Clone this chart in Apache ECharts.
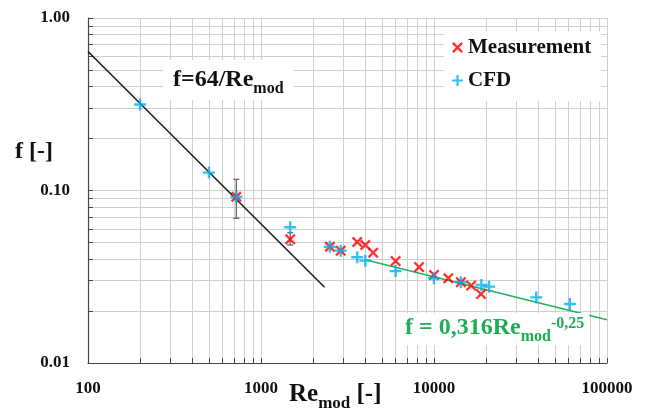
<!DOCTYPE html>
<html>
<head>
<meta charset="utf-8">
<script src="https://cdn.jsdelivr.net/npm/echarts@6/dist/echarts.min.js"></script>
<style>
  html, body { margin: 0; padding: 0; background: #fff; }
  #chart { width: 648px; height: 416px; }
</style>
</head>
<body>
<div id="chart"></div>
<script>
// Values
var cfdRe = [200, 500, 720, 1475, 2500, 2890, 3600, 4010, 6000, 10000, 14300, 18800, 20800, 39000, 61000];
var cfdF = [0.315, 0.127, 0.092, 0.0612, 0.0472, 0.0448, 0.041, 0.0392, 0.0341, 0.031, 0.0294, 0.0283, 0.0277, 0.024, 0.022];
var measRe = [720, 1475, 2500, 2890, 3600, 4010, 4450, 6000, 8200, 10000, 12100, 14300, 16400, 18700];
var measF = [0.092, 0.0521, 0.0472, 0.0448, 0.0503, 0.0483, 0.0436, 0.039, 0.036, 0.0324, 0.031, 0.0294, 0.0281, 0.0251];
var errRe = [720, 1475];
var errLow = [0.069, 0.0483];
var errHigh = [0.116, 0.0569];
var laminarRe = [100, 2330];
var laminarF = [0.64, 0.0275];
var turbRe = [4000, 100000];
var turbF = [0.0397, 0.0178];

var FONT = '"Liberation Serif", serif';
var PLUS = 'path://M4,0H6V4H10V6H6V10H4V6H0V4H4Z';
var CROSS = 'path://M1.5,0L5,3.5L8.5,0L10,1.5L6.5,5L10,8.5L8.5,10L5,6.5L1.5,10L0,8.5L3.5,5L0,1.5Z';

function pairs(xs, ys) {
  return xs.map(function (x, i) { return [x, ys[i]]; });
}

var chart = echarts.init(document.getElementById('chart'), null, { renderer: 'canvas' });

var option = {
  animation: false,
  backgroundColor: '#fff',
  grid: { left: 88, right: 41, top: 18, bottom: 53 },
  legend: {
    orient: 'vertical',
    left: 444,
    top: 31,
    itemGap: 12,
    itemWidth: 11,
    itemHeight: 11,
    backgroundColor: '#fff',
    padding: [6, 10, 10, 8],
    textStyle: { fontFamily: FONT, fontWeight: 'bold', fontSize: 21, color: '#111' },
    data: [
      { name: 'Measurement', icon: CROSS, itemStyle: { color: '#ff0000' } },
      { name: 'CFD', icon: PLUS, itemStyle: { color: '#00b0f0' } }
    ]
  },
  xAxis: {
    type: 'log',
    logBase: 10,
    min: 100,
    max: 100000,
    axisLine: { lineStyle: { color: '#444', width: 1.2 } },
    axisTick: { inside: true, length: 5, lineStyle: { color: '#444' } },
    minorTick: { show: true, splitNumber: 9, length: 5, lineStyle: { color: '#444' } },
    splitLine: { show: true, lineStyle: { color: '#cfcfcf', width: 1 } },
    minorSplitLine: { show: true, lineStyle: { color: '#cfcfcf', width: 1 } },
    axisLabel: {
      margin: 17,
      fontFamily: FONT, fontWeight: 'bold', fontSize: 17, color: '#111',
      formatter: function (v) { return String(Math.round(v)); }
    }
  },
  yAxis: {
    type: 'log',
    logBase: 10,
    min: 0.01,
    max: 1,
    axisLine: { show: true, lineStyle: { color: '#444', width: 1.2 } },
    axisTick: { show: true, inside: true, length: 5, lineStyle: { color: '#444' } },
    minorTick: { show: true, splitNumber: 9, length: 5, lineStyle: { color: '#444' } },
    splitLine: { show: true, lineStyle: { color: '#cfcfcf', width: 1 } },
    minorSplitLine: { show: true, lineStyle: { color: '#cfcfcf', width: 1 } },
    axisLabel: {
      margin: 18,
      fontFamily: FONT, fontWeight: 'bold', fontSize: 17, color: '#111',
      formatter: function (v) { return v.toFixed(2); }
    }
  },
  series: [
    {
      name: 'laminar',
      type: 'line',
      data: pairs(laminarRe, laminarF),
      symbol: 'none',
      lineStyle: { color: '#1a1a1a', width: 1.5 },
      z: 3
    },
    {
      name: 'turbulent',
      type: 'line',
      data: pairs(turbRe, turbF),
      symbol: 'none',
      lineStyle: { color: '#20b25a', width: 1.5 },
      z: 3
    },
    {
      name: 'errors',
      type: 'custom',
      data: errRe.map(function (x, i) { return [x, errLow[i], errHigh[i]]; }),
      renderItem: function (params, api) {
        var lo = api.coord([api.value(0), api.value(1)]);
        var hi = api.coord([api.value(0), api.value(2)]);
        var st = { stroke: '#666', lineWidth: 1.3 };
        return {
          type: 'group',
          children: [
            { type: 'line', shape: { x1: lo[0], y1: lo[1], x2: hi[0], y2: hi[1] }, style: st },
            { type: 'line', shape: { x1: lo[0] - 3, y1: lo[1], x2: lo[0] + 3, y2: lo[1] }, style: st },
            { type: 'line', shape: { x1: hi[0] - 3, y1: hi[1], x2: hi[0] + 3, y2: hi[1] }, style: st }
          ]
        };
      },
      z: 4
    },
    {
      name: 'Measurement',
      type: 'scatter',
      data: pairs(measRe, measF),
      symbol: CROSS,
      symbolSize: 11,
      itemStyle: { color: '#ff0000' },
      z: 5
    },
    {
      name: 'CFD',
      type: 'scatter',
      data: pairs(cfdRe, cfdF),
      symbol: PLUS,
      symbolSize: 12,
      itemStyle: { color: '#00b0f0' },
      z: 6
    }
  ],
  graphic: [
    {
      type: 'text', left: 15, top: 140,
      style: { text: 'f [-]', font: 'bold 24px ' + FONT, fill: '#111' }
    },
    {
      type: 'text', left: 289, top: 382,
      style: {
        text: '{a|Re}{s|mod}{a| [-]}',
        fill: '#111',
        rich: {
          a: { fontFamily: FONT, fontWeight: 'bold', fontSize: 25, lineHeight: 26, verticalAlign: 'top' },
          s: { fontFamily: FONT, fontWeight: 'bold', fontSize: 17, lineHeight: 17, padding: [13, 0, 0, 0], verticalAlign: 'top' }
        }
      }
    },
    {
      type: 'text', left: 163, top: 60, z: 10,
      style: {
        text: '{a|f=64/Re}{s|mod}',
        fill: '#111',
        backgroundColor: '#fff',
        padding: [8, 10, 6, 10],
        rich: {
          a: { fontFamily: FONT, fontWeight: 'bold', fontSize: 24, lineHeight: 26, verticalAlign: 'top' },
          s: { fontFamily: FONT, fontWeight: 'bold', fontSize: 16, lineHeight: 16, padding: [13, 0, 0, 0], verticalAlign: 'top' }
        }
      }
    },
    {
      type: 'text', left: 400, top: 313, z: 10,
      style: {
        text: '{a|f = 0,316Re}{s|mod}{p|-0,25}',
        fill: '#1fae55',
        backgroundColor: '#fff',
        padding: [3, 5, 3, 5],
        rich: {
          a: { fontFamily: FONT, fontWeight: 'bold', fontSize: 24, lineHeight: 26, verticalAlign: 'top', color: '#1fae55' },
          s: { fontFamily: FONT, fontWeight: 'bold', fontSize: 16, lineHeight: 16, padding: [13, 0, 0, 0], verticalAlign: 'top', color: '#1fae55' },
          p: { fontFamily: FONT, fontWeight: 'bold', fontSize: 16, lineHeight: 16, padding: [0, 0, 0, 0], verticalAlign: 'top', color: '#1fae55' }
        }
      }
    }
  ]
};

chart.setOption(option);
</script>
</body>
</html>
